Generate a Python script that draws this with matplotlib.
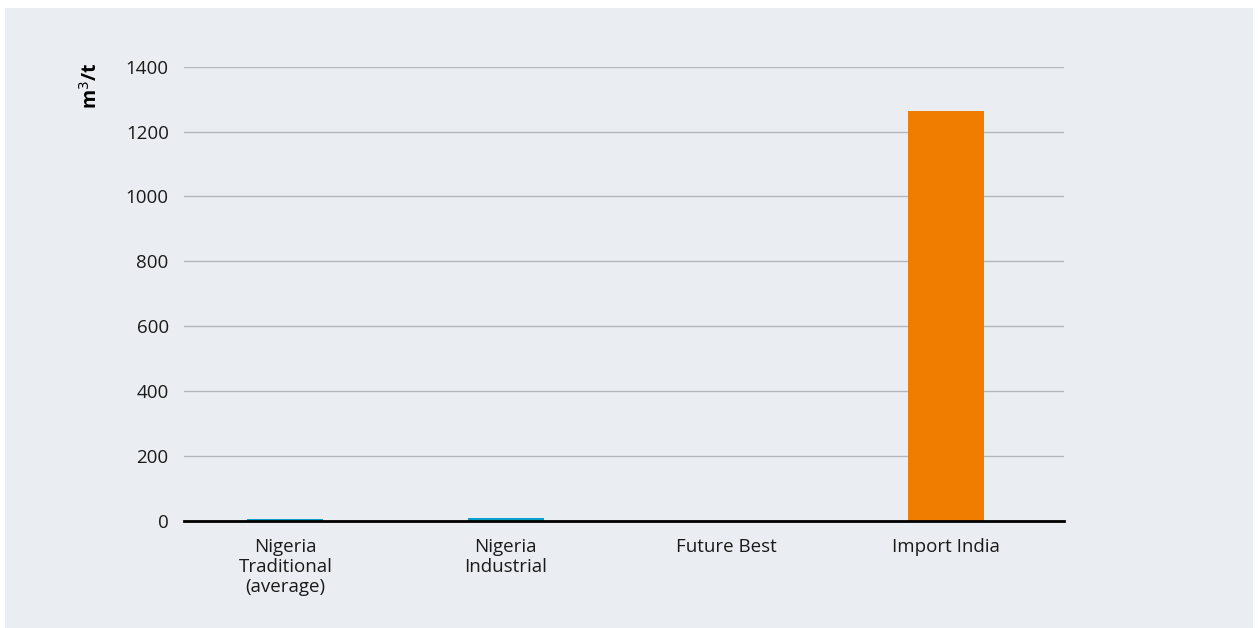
import matplotlib.pyplot as plt
from matplotlib.patches import Rectangle

categories = ["Nigeria\nTraditional\n(average)", "Nigeria\nIndustrial", "Future Best", "Import India"]
values = [6, 9, 1, 1262]
colors = ["#0c9fcb", "#0c9fcb", "#0c9fcb", "#f07d00"]
yticks = [0, 200, 400, 600, 800, 1000, 1200, 1400]

plt.rcParams["font.family"] = ["Open Sans", "DejaVu Sans"]
plt.rcParams["font.size"] = 13.5

fig = plt.figure(figsize=(12.59, 6.28), dpi=100, facecolor="white")
# grey panel behind the chart
fig.patches.append(Rectangle((5 / 1259, 0), 1248 / 1259, 620 / 628,
                             transform=fig.transFigure, facecolor="#eaeef2",
                             edgecolor="none", zorder=-10))

ax = fig.add_axes([184 / 1259, 1 - 521 / 628, 880 / 1259, (521 - 66.7) / 628])
ax.set_facecolor("none")

x = range(len(categories))
ax.bar(x, values, width=0.345, color=colors, zorder=2)

ax.set_xlim(-0.46, 3.535)
ax.set_ylim(0, 1400)
ax.set_yticks(yticks)
ax.set_xticks(list(x))
ax.set_xticklabels(categories, color="#1a1a1a", linespacing=1.15)
ax.yaxis.grid(True, color="#b3b7ba", linewidth=1)
ax.set_axisbelow(True)

for s in ["top", "right", "left"]:
    ax.spines[s].set_visible(False)
ax.spines["bottom"].set_color("black")
ax.spines["bottom"].set_linewidth(2)
ax.spines["bottom"].set_zorder(3)

ax.tick_params(axis="y", length=0, pad=11, colors="#1a1a1a")
ax.tick_params(axis="x", length=0, pad=12)

ax.set_ylabel("m$^3$/t", fontweight="bold", fontsize=14, loc="top")
ax.yaxis.set_label_coords(-0.093, 1.01)

fig.savefig("out.png", dpi=100)
